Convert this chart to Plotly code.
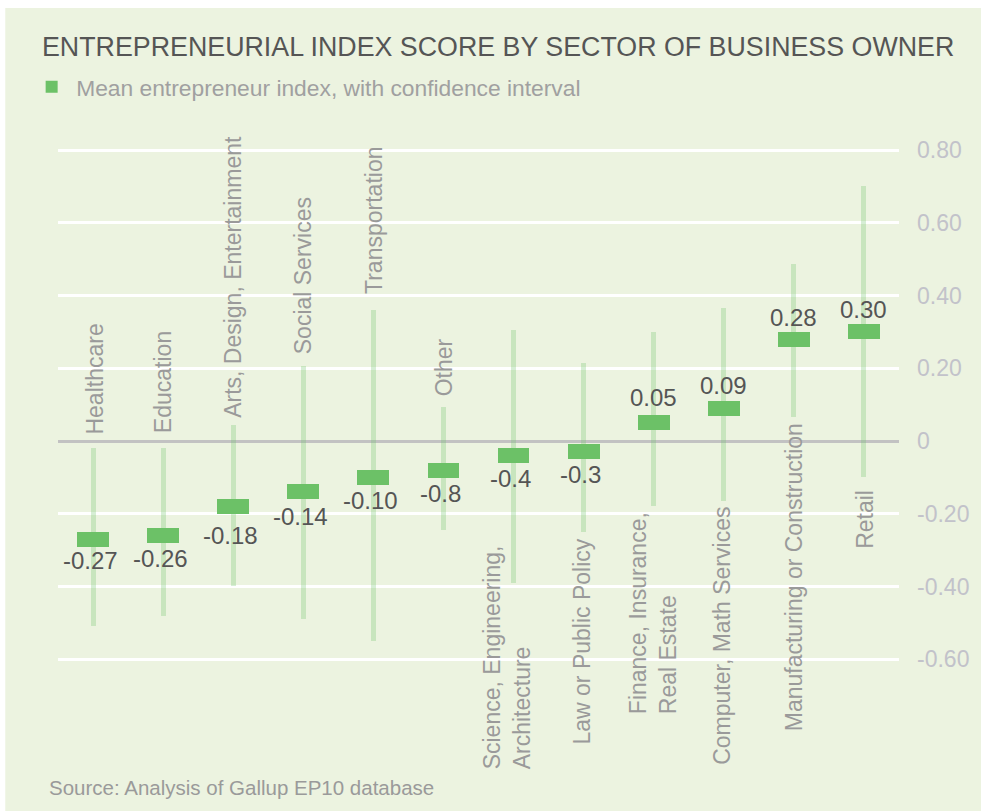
import plotly.graph_objects as go

# ---------------- data ----------------
categories = [
    "Healthcare", "Education", "Arts, Design, Entertainment", "Social Services",
    "Transportation", "Other", "Science, Engineering, Architecture",
    "Law or Public Policy", "Finance, Insurance, Real Estate",
    "Computer, Math Services", "Manufacturing or Construction", "Retail",
]
category_labels = [
    "Healthcare", "Education", "Arts, Design, Entertainment", "Social Services",
    "Transportation", "Other", "Science, Engineering,<br>Architecture",
    "Law or Public Policy", "Finance, Insurance,<br>Real Estate",
    "Computer, Math Services", "Manufacturing or Construction", "Retail",
]
mean_index = [-0.27, -0.26, -0.18, -0.14, -0.10, -0.08, -0.04, -0.03, 0.05, 0.09, 0.28, 0.30]
value_labels = ["-0.27", "-0.26", "-0.18", "-0.14", "-0.10", "-0.8", "-0.4", "-0.3",
                "0.05", "0.09", "0.28", "0.30"]
ci_low = [-0.51, -0.48, -0.40, -0.49, -0.55, -0.245, -0.39, -0.25, -0.18, -0.165, 0.065, -0.10]
ci_high = [-0.02, -0.02, 0.045, 0.205, 0.36, 0.094, 0.305, 0.214, 0.30, 0.366, 0.487, 0.70]
tick_vals = [0.8, 0.6, 0.4, 0.2, 0, -0.2, -0.4, -0.6]
tick_text = ["0.80", "0.60", "0.40", "0.20", "0", "-0.20", "-0.40", "-0.60"]

# ---------------- styles ----------------
BG = "#ecf3e0"
GREEN = "#6cc167"
CI_COLOR = "rgba(108,193,103,0.28)"
FONT = "Liberation Sans, Arial, sans-serif"
W, H = 981, 811
ML, MR, MT, MB = 58, 78, 128, 86
PW, PH = W - ML - MR, H - MT - MB
PX_PER_UNIT = 363.6
y_top = (441 - MT) / PX_PER_UNIT
y_bot = y_top - PH / PX_PER_UNIT
cat_px = PW / len(categories)
marker_h = 15 / PX_PER_UNIT
marker_w = 32 / cat_px
ci_w = 5 / cat_px

label_side = ["above"] * 6 + ["below"] * 6
label_yshift = [4, 6, 5, 10, 14, 9, 39, -5, -4, -4, -4, -10]
label_xshift = [1, 0, -1, 0, 0, 0, -7, -2, 0, -2, 0, 1]
value_shift = [21, 23, 29, 25, 23, 23, 23, 23, 25, 23, 22, 22]

fig = go.Figure()
fig.add_trace(go.Bar(
    x=categories,
    y=[h - l for h, l in zip(ci_high, ci_low)],
    base=ci_low,
    width=ci_w,
    marker=dict(color=CI_COLOR, line=dict(width=0)),
    showlegend=False,
    hoverinfo="skip",
))
fig.add_trace(go.Bar(
    x=categories,
    y=[marker_h] * len(categories),
    base=[v - marker_h / 2 for v in mean_index],
    width=marker_w,
    marker=dict(color=GREEN, line=dict(width=0)),
    name="Mean entrepreneur index, with confidence interval",
    showlegend=True,
))

annotations = []
for i, (c, v, t) in enumerate(zip(categories, mean_index, value_labels)):
    annotations.append(dict(
        x=c, y=v, xref="x", yref="y", text=t, showarrow=False,
        yanchor="middle", xanchor="center",
        yshift=(value_shift[i] if v > 0 else -value_shift[i]),
        xshift=(-3 if v < 0 else 0),
        font=dict(family=FONT, size=24, color="#555555"),
    ))
for i, (c, lab) in enumerate(zip(categories, category_labels)):
    above = label_side[i] == "above"
    annotations.append(dict(
        x=c, y=(max(ci_high[i], 0) if above else ci_low[i]), xref="x", yref="y",
        text=lab, showarrow=False, textangle=-90,
        yanchor=("bottom" if above else "top"), xanchor="center",
        yshift=label_yshift[i], xshift=label_xshift[i], align="left",
        font=dict(family=FONT, size=23, color="#9a9a9a"),
    ))
annotations.append(dict(
    x=(47 - ML) / PW, y=(H - MB - 788) / PH, xref="paper", yref="paper",
    text="Source: Analysis of Gallup EP10 database",
    showarrow=False, xanchor="left", yanchor="middle",
    font=dict(family=FONT, size=20.5, color="#9a9a9a"),
))

fig.update_layout(
    width=W, height=H,
    margin=dict(l=ML, r=MR, t=MT, b=MB, pad=0),
    paper_bgcolor="white",
    plot_bgcolor="rgba(0,0,0,0)",
    barmode="overlay",
    bargap=0,
    title=dict(
        text="ENTREPRENEURIAL INDEX SCORE BY SECTOR OF BUSINESS OWNER",
        x=42 / W, xanchor="left", xref="container",
        y=1 - 47 / H, yanchor="middle", yref="container",
        font=dict(family=FONT, size=26.8, color="#555555"),
    ),
    legend=dict(
        orientation="h", x=(27 - ML) / PW, xanchor="left",
        y=(H - MB - 87) / PH, yanchor="middle",
        font=dict(family=FONT, size=22.8, color="#a0a0a0"),
        bgcolor="rgba(0,0,0,0)", itemwidth=39,
    ),
    xaxis=dict(
        showticklabels=False, showgrid=False, zeroline=False, showline=False,
        ticks="", range=[-0.5, len(categories) - 0.5], fixedrange=True,
    ),
    yaxis=dict(
        side="right", range=[y_bot, y_top], tickvals=tick_vals, ticktext=tick_text,
        showgrid=True, gridcolor="white", gridwidth=3,
        zeroline=True, zerolinecolor="#c2c2c2", zerolinewidth=3,
        showline=False, ticks="", ticklabelstandoff=17,
        tickfont=dict(family=FONT, size=23, color="#c2c2ca"),
    ),
    shapes=[dict(
        type="rect", xref="paper", yref="paper", layer="below",
        x0=(5 - ML) / PW, x1=(W + 10 - ML) / PW,
        y0=(H - MB - (H + 10)) / PH, y1=(H - MB - 8) / PH,
        fillcolor=BG, line=dict(width=0),
    )],
    annotations=annotations,
    showlegend=True,
)

fig.write_html(
    "out.html",
    config={"displayModeBar": False},
    post_script="document.body.style.margin='0';document.body.style.overflow='hidden';",
)
